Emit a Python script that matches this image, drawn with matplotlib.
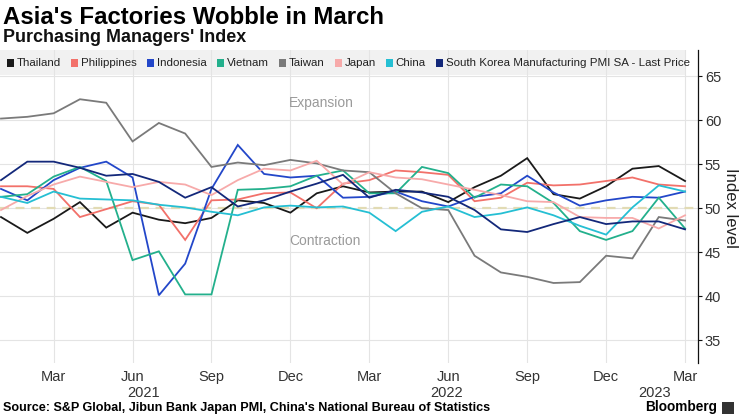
import matplotlib
matplotlib.use('Agg')
import matplotlib.pyplot as plt
from matplotlib import font_manager
from matplotlib.patches import Rectangle
import matplotlib.transforms as mtrans

# ---------------- data ----------------
month_ticks = [2, 5, 8, 11, 14, 17, 20, 23, 26]
month_labels = ['Mar', 'Jun', 'Sep', 'Dec', 'Mar', 'Jun', 'Sep', 'Dec', 'Mar']
years = ['2021', '2022', '2023']

thailand = [49.0, 47.2, 48.8, 50.7, 47.8, 49.5, 48.7, 48.3, 48.9, 50.9, 50.6, 49.5,
            51.7, 52.5, 51.8, 51.9, 51.9, 50.7, 52.4, 53.7, 55.7, 51.6, 51.1, 52.5,
            54.5, 54.8, 53.1]
philippines = [52.5, 52.5, 52.2, 49.0, 49.9, 50.8, 50.4, 46.4, 50.9, 51.0, 51.7, 51.8,
               50.0, 52.8, 53.2, 54.3, 54.1, 53.8, 50.8, 51.2, 52.9, 52.6, 52.7, 53.1,
               53.5, 52.7, 52.5]
indonesia = [52.2, 50.9, 53.2, 54.6, 55.3, 53.5, 40.1, 43.7, 52.2, 57.2, 53.9, 53.5,
             53.7, 51.2, 51.3, 51.9, 50.8, 50.2, 51.3, 51.7, 53.7, 51.8, 50.3, 50.9,
             51.3, 51.2, 51.9]
vietnam = [51.3, 51.6, 53.6, 54.7, 53.1, 44.1, 45.1, 40.2, 40.2, 52.1, 52.2, 52.5,
           53.7, 54.3, 51.7, 51.7, 54.7, 54.0, 51.2, 52.7, 52.5, 50.6, 47.4, 46.4,
           47.4, 51.2, 47.7]
taiwan = [60.2, 60.4, 60.8, 62.4, 62.0, 57.6, 59.7, 58.5, 54.7, 55.2, 54.9, 55.5,
          55.1, 54.3, 54.1, 51.7, 50.0, 49.8, 44.6, 42.7, 42.2, 41.5, 41.6, 44.6,
          44.3, 49.0, 48.6]
japan = [49.8, 51.4, 52.7, 53.6, 53.0, 52.4, 53.0, 52.7, 51.5, 53.2, 54.5, 54.3,
         55.4, 52.7, 54.1, 53.5, 53.3, 52.7, 52.1, 51.5, 50.8, 50.7, 49.0, 48.9,
         48.9, 47.7, 49.2]
china = [51.3, 50.6, 51.9, 51.1, 51.0, 50.9, 50.4, 50.1, 49.6, 49.2, 50.1, 50.3,
         50.1, 50.2, 49.5, 47.4, 49.6, 50.2, 49.0, 49.4, 50.1, 49.2, 48.0, 47.0,
         50.1, 52.6, 51.9]
south_korea = [53.2, 55.3, 55.3, 54.6, 53.7, 53.9, 53.0, 51.2, 52.4, 50.2, 50.9, 51.9,
               52.8, 53.8, 51.2, 52.1, 51.8, 51.3, 49.8, 47.6, 47.3, 48.2, 49.0, 48.2,
               48.5, 48.5, 47.6]

series_names = ['Thailand', 'Philippines', 'Indonesia', 'Vietnam', 'Taiwan', 'Japan',
                'China', 'South Korea Manufacturing PMI SA - Last Price']
series_values = [thailand, philippines, indonesia, vietnam, taiwan, japan, china, south_korea]
series_colors = ['#1a1a1a', '#f2716a', '#2347c9', '#23b08c', '#7a7a7a', '#f7aaaa',
                 '#25bfd3', '#13287a']

# ---------------- fonts ----------------
avail = {f.name for f in font_manager.fontManager.ttflist}
narrow = 'Liberation Sans Narrow' if 'Liberation Sans Narrow' in avail else 'Liberation Sans'
plain = 'Liberation Sans'
plt.rcParams['font.family'] = [narrow, 'DejaVu Sans']

W, H = 740, 416
fig = plt.figure(figsize=(W / 100, H / 100), dpi=100)
fig.patch.set_facecolor('white')
renderer = fig.canvas.get_renderer()


def fx(px):
    return px / W


def fy(py):
    return 1 - py / H


def fit_width(t, target):
    for _ in range(3):
        w = t.get_window_extent(renderer=renderer).width
        t.set_fontsize(t.get_fontsize() * target / w)


ax = fig.add_axes([0, fy(363), 698 / W, (363 - 50) / H])
x0 = -0.038
ax.set_xlim(x0, x0 + 698 / 26.31)
ax.set_ylim(32.4, 68)

# legend band
band = Rectangle((0, 65.15), 686 / 698, 68 - 65.15, transform=mtrans.blended_transform_factory(ax.transAxes, ax.transData),
                 facecolor='#f1f1f1', edgecolor='none', zorder=0.2)
ax.add_patch(band)

ax.set_axisbelow(True)
ax.grid(True, color='#e4e4e4', lw=0.8)
ax.set_xticks(month_ticks)
ax.set_xticklabels(month_labels)
ax.set_yticks([35, 40, 45, 50, 55, 60, 65])
for s in ['top', 'left', 'bottom']:
    ax.spines[s].set_visible(False)
ax.spines['right'].set_color('#111111')
ax.spines['right'].set_linewidth(0.9)
ax.yaxis.tick_right()
ax.tick_params(axis='y', direction='out', length=3, width=0.8, pad=2, labelsize=10.5,
               colors='#111111', labelcolor='#333333')
ax.tick_params(axis='x', length=0, pad=5, labelsize=10.5, labelcolor='#333333')

ax.axhline(50, color='#e2dbb4', lw=1.6, ls=(0, (4, 3)), zorder=1)

xs = list(range(len(thailand)))
for vals, col in zip(series_values, series_colors):
    ax.plot(xs, vals, color=col, lw=1.3, zorder=3, solid_joinstyle='miter')

ax.text(10.95, 62.0, 'Expansion', color='#9a9a9a', fontsize=10, va='center', ha='left')
ax.text(10.95, 46.3, 'Contraction', color='#9a9a9a', fontsize=10, va='center', ha='left')

# year labels
ytrans = mtrans.blended_transform_factory(fig.transFigure, fig.transFigure)
for yr, px in zip(years, [144, 447, 655]):
    fig.text(fx(px), fy(393), yr, ha='center', va='center', fontsize=10.5, color='#333333')

# y label
yl = fig.text(fx(731), fy(208), 'Index level', rotation=-90, ha='center', va='center',
              fontsize=12, color='#222222')

# legend (manual flow)
fs = 9.5
for it in range(3):
    texts = []
    xcur = 7
    for name, col in zip(series_names, series_colors):
        t = fig.text(fx(xcur + 10), fy(63), name, fontsize=fs, va='center', ha='left', color='#222222')
        w = t.get_window_extent(renderer=renderer).width
        texts.append((t, xcur, col))
        xcur = xcur + 10 + w + 10
    end = xcur - 10
    if it < 2:
        for t, _, _ in texts:
            t.remove()
        fs *= (686 - 7 - 150) / (end - 7 - 150)
for t, xsq, col in texts:
    fig.patches.append(Rectangle((fx(xsq), fy(66.5)), 7 / W, 7 / H, transform=fig.transFigure,
                                 facecolor=col, edgecolor='none', figure=fig))

# titles
t1 = fig.text(fx(3), fy(24), "Asia's Factories Wobble in March", fontsize=16, fontweight='bold',
              ha='left', va='baseline', color='#000000', family=[plain, 'DejaVu Sans'])
fit_width(t1, 381)
t2 = fig.text(fx(3), fy(42), "Purchasing Managers' Index", fontsize=11, fontweight='bold',
              ha='left', va='baseline', color='#111111', family=[plain, 'DejaVu Sans'])
fit_width(t2, 243)

src = fig.text(fx(3), fy(408), "Source: S&P Global, Jibun Bank Japan PMI, China's National Bureau of Statistics",
               fontsize=9, fontweight='bold', ha='left', va='center', color='#000000')
fit_width(src, 486)
bb = fig.text(fx(717), fy(407), 'Bloomberg', fontsize=11, fontweight='bold', ha='right', va='center',
              color='#000000', family=[plain, 'DejaVu Sans'])
fit_width(bb, 72)
fig.patches.append(Rectangle((fx(722), fy(414)), 12 / W, 12 / H, transform=fig.transFigure,
                             facecolor='#333333', edgecolor='none', figure=fig))

fig.savefig('out.png', dpi=100, facecolor='white')
